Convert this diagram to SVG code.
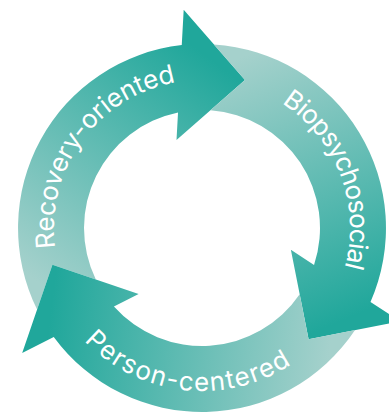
<svg xmlns="http://www.w3.org/2000/svg" xmlns:xlink="http://www.w3.org/1999/xlink" width="389" height="412" viewBox="0 0 389 412">
  <defs>
    <style>
      .arrow { fill: url(#tealGrad); }
      .label { fill: #ffffff; font-family: "Inter", "Lato", "Noto Sans", sans-serif; font-size: 26px; }
    </style>
    <linearGradient id="tealGrad" gradientUnits="userSpaceOnUse" x1="55" y1="295" x2="225" y2="70">
      <stop offset="0" stop-color="#a5d1cc"/>
      <stop offset="1" stop-color="#20a79b"/>
    </linearGradient>
    <path id="arrowShape" d="M37.1,309.55 A184,184 0 0 1 181.75,45.12 L183.7,9.8 L244.97,80.1 L176.5,140.1 L178.03,112.46 A118,118 0 0 0 95.83,279.49 L52.45,264.73 Z"/>
    <path id="arcRecovery" d="M79.3,310.8 A148,148 0 0 1 242.8,85.7"/>
    <path id="arcBio" d="M199.4,80 A148,148 0 0 1 299.1,339.7"/>
    <path id="arcPerson" d="M43.5,266.1 A163,163 0 0 0 347.9,300.7"/>
  </defs>
  <g id="node-recovery-oriented">
    <use xlink:href="#arrowShape" class="arrow"/>
    <text class="label"><textPath xlink:href="#arcRecovery" startOffset="50%" text-anchor="middle" textLength="226" lengthAdjust="spacing">Recovery-oriented</textPath></text>
  </g>
  <g id="node-biopsychosocial">
    <use xlink:href="#arrowShape" class="arrow" transform="rotate(120 202 228)"/>
    <text class="label"><textPath xlink:href="#arcBio" startOffset="50%" text-anchor="middle" textLength="188" lengthAdjust="spacing">Biopsychosocial</textPath></text>
  </g>
  <g id="node-person-centered">
    <use xlink:href="#arrowShape" class="arrow" transform="rotate(240 202 228)"/>
    <text class="label"><textPath xlink:href="#arcPerson" startOffset="50%" text-anchor="middle" textLength="226" lengthAdjust="spacing">Person-centered</textPath></text>
  </g>
  <g id="connectors"/>
</svg>
